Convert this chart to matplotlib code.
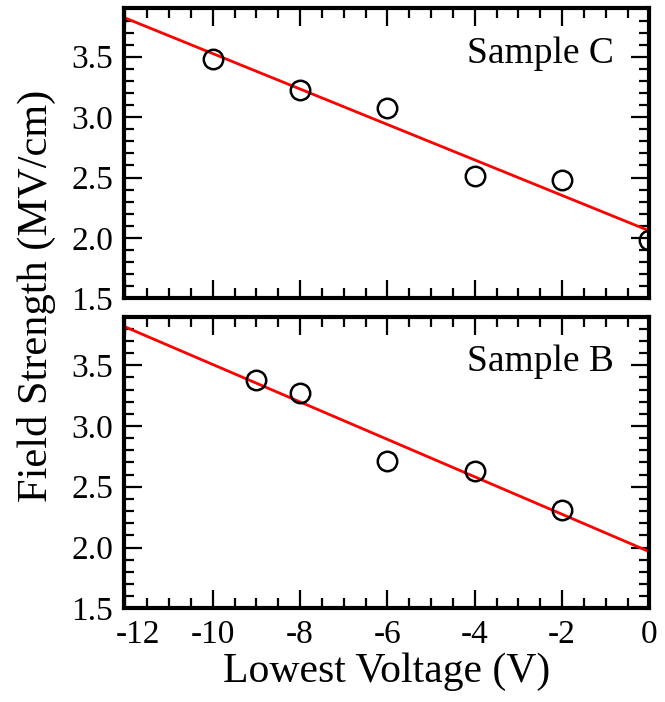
import numpy as np
import matplotlib
matplotlib.use('Agg')
import matplotlib.pyplot as plt
import matplotlib.transforms as mtransforms
from matplotlib.ticker import MultipleLocator

plt.rcParams['font.family'] = ['Liberation Serif', 'DejaVu Serif']
plt.rcParams['axes.unicode_minus'] = False

# Sample C
volt_c = np.array([-10, -8, -6, -4, -2, 0])
field_c = np.array([3.48, 3.225, 3.075, 2.51, 2.48, 1.985])

# Sample B
volt_b = np.array([-9, -8, -6, -4, -2])
field_b = np.array([3.375, 3.275, 2.71, 2.63, 2.305])

x_ticks = [-12, -10, -8, -6, -4, -2, 0]
x_labels = ['-12', '-10', '-8', '-6', '-4', '-2', '0']
y_ticks = [1.5, 2.0, 2.5, 3.0, 3.5]
y_labels = ['1.5', '2.0', '2.5', '3.0', '3.5']

fig = plt.figure(figsize=(6.65, 7.02), dpi=100)
ax_top = fig.add_axes([0.1865, 0.575, 0.790, 0.413])
ax_bot = fig.add_axes([0.1865, 0.1335, 0.790, 0.4155])

for ax, xv, yv, name in [(ax_top, volt_c, field_c, 'Sample C'),
                         (ax_bot, volt_b, field_b, 'Sample B')]:
    # least-squares fit drawn across the full x range
    k, b = np.polyfit(xv, yv, 1)
    xx = np.array([-12.03, 0])
    ax.plot(xx, k * xx + b, color='#ff0000', lw=2.0, zorder=2)
    ax.plot(xv, yv, 'o', ms=14, mfc='none', mec='black', mew=1.8, zorder=3)

    ax.set_xlim(-12.03, 0)
    ax.set_ylim(1.5, 3.9)
    ax.set_xticks(x_ticks)
    ax.set_yticks(y_ticks)
    ax.set_yticklabels(y_labels)
    ax.xaxis.set_minor_locator(MultipleLocator(0.5))
    ax.yaxis.set_minor_locator(MultipleLocator(0.1))
    ax.tick_params(which='both', direction='in', top=True, right=True, width=1.6)
    ax.tick_params(which='major', length=13, labelsize=24, pad=8)
    ax.tick_params(which='minor', length=7)
    for sp in ax.spines.values():
        sp.set_linewidth(3)
    ax.text(0.933, 0.845, name, transform=ax.transAxes, ha='right',
            va='center', fontsize=27)

ax_top.set_xticklabels([])
ax_bot.set_xticklabels(x_labels)
# nudge the leftmost label clear of the y tick labels
lab0 = ax_bot.get_xticklabels()[0]
lab0.set_transform(lab0.get_transform() +
                   mtransforms.ScaledTranslation(13 / 100, 0, fig.dpi_scale_trans))

ax_bot.set_xlabel('Lowest Voltage (V)', fontsize=30, labelpad=2)
fig.text(0.055, 0.578, 'Field Strength (MV/cm)', rotation=90, ha='center',
         va='center', fontsize=30.5)

fig.savefig('out.png', dpi=100)
